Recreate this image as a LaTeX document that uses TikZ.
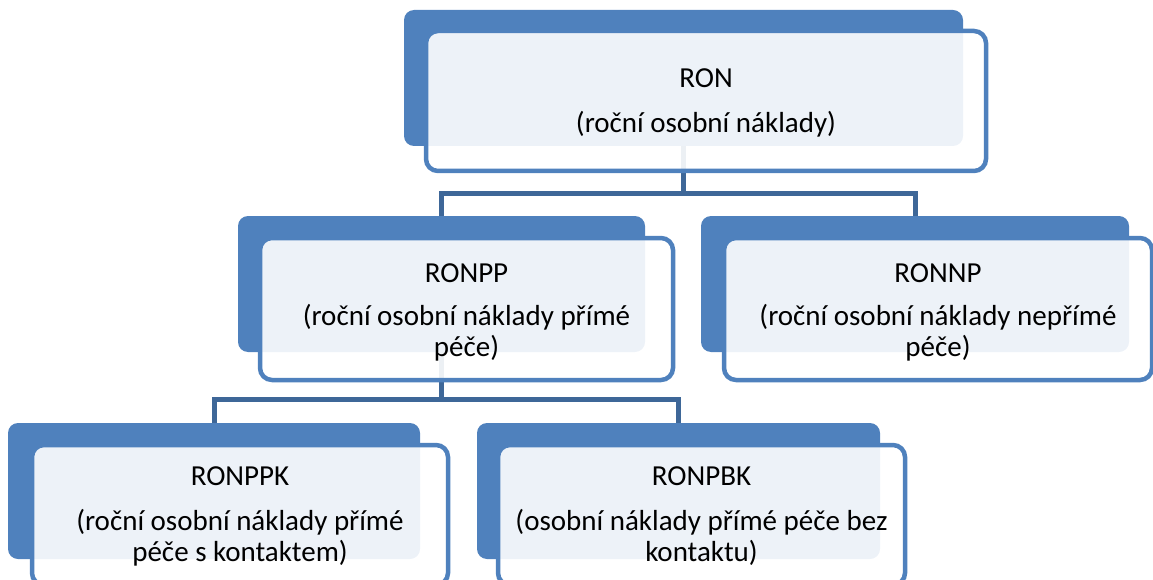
\documentclass[tikz,border=0pt]{standalone}
\usepackage{fontspec}
\setmainfont{Carlito}
\usetikzlibrary{backgrounds}
\definecolor{accent}{RGB}{79,129,189}
\definecolor{connc}{RGB}{62,103,152}
\tikzset{
  backbox/.style 2 args={draw=none, fill=accent, rounded corners=10pt, inner sep=0pt,
    minimum width=#1, minimum height=#2, rectangle},
  frontbox/.style 2 args={draw=accent, line width=4.5pt, fill=white, fill opacity=0.9,
    rounded corners=12pt, inner sep=0pt, minimum width=#1, minimum height=#2, rectangle},
  txt/.style={anchor=base, inner sep=0pt, text=black, font=\fontsize{29}{30}\selectfont},
  connline/.style={draw=connc, line width=5pt}
}
\begin{document}
\begin{tikzpicture}[x=1pt,y=-1pt]
\useasboundingbox (0,0) rectangle (1153,580);
% RON
\node[backbox={559pt}{136pt}] (ronB) at (683.5,78) {};
\node[frontbox={560pt}{140pt}] (ron) at (706,101) {};
\node[txt] (ronT) at (706,88) {RON};
\node[txt] (ronD) at (706,133) {(roční osobní náklady)};
% RONPP
\node[backbox={407pt}{136pt}] (ronppB) at (441.5,284) {};
\node[frontbox={413pt}{142pt}] (ronpp) at (466.5,309) {};
\node[txt] (ronppT) at (466.5,282) {RONPP};
\node[txt] (ronppD1) at (466.5,325) {(roční osobní náklady přímé};
\node[txt] (ronppD2) at (466.5,356) {péče)};
% RONNP
\node[backbox={428pt}{136pt}] (ronnpB) at (915,284) {};
\node[frontbox={428pt}{142pt}] (ronnp) at (938,309) {};
\node[txt] (ronnpT) at (938,282) {RONNP};
\node[txt] (ronnpD1) at (938,325) {(roční osobní náklady nepřímé};
\node[txt] (ronnpD2) at (938,356) {péče)};
% RONPPK
\node[backbox={412pt}{136pt}] (ronppkB) at (214,491) {};
\node[frontbox={416pt}{140pt}] (ronppk) at (240,515) {};
\node[txt] (ronppkT) at (240,485) {RONPPK};
\node[txt] (ronppkD1) at (240,530) {(roční osobní náklady přímé};
\node[txt] (ronppkD2) at (240,561) {péče s kontaktem)};
% RONPBK
\node[backbox={403pt}{136pt}] (ronpbkB) at (678.5,491) {};
\node[frontbox={407pt}{140pt}] (ronpbk) at (701.5,515) {};
\node[txt] (ronpbkT) at (701.5,485) {RONPBK};
\node[txt] (ronpbkD1) at (701.5,530) {(osobní náklady přímé péče bez};
\node[txt] (ronpbkD2) at (701.5,561) {kontaktu)};
% connectors
\coordinate (j1) at (683.5,193.5);
\coordinate (j2) at (441.5,399);
\begin{scope}[on background layer]
\draw[connline] (ronB.south) -- (ronB.south |- j1) -| (ronppB.north);
\draw[connline] (ronB.south |- j1) -| (ronnpB.north);
\draw[connline] (ronppB.south) -- (ronppB.south |- j2) -| (ronppkB.north);
\draw[connline] (ronppB.south |- j2) -| (ronpbkB.north);
\end{scope}
\end{tikzpicture}
\end{document}
